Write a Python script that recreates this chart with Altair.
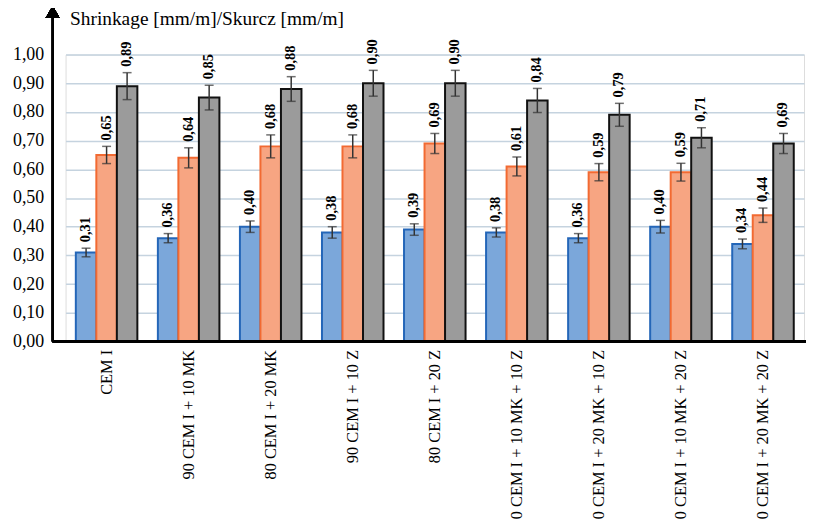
import altair as alt
import pandas as pd

groups = ["CEM I", "90 CEM I + 10 MK", "80 CEM I + 20 MK", "90 CEM I + 10 Z",
          "80 CEM I + 20 Z", "80 CEM I + 10 MK + 10 Z", "70 CEM I + 20 MK + 10 Z",
          "70 CEM I + 10 MK + 20 Z", "60 CEM I + 20 MK + 20 Z"]
series_names = ["S1", "S2", "S3"]
s1 = [0.31, 0.36, 0.40, 0.38, 0.39, 0.38, 0.36, 0.40, 0.34]
s2 = [0.65, 0.64, 0.68, 0.68, 0.69, 0.61, 0.59, 0.59, 0.44]
s3 = [0.89, 0.85, 0.88, 0.90, 0.90, 0.84, 0.79, 0.71, 0.69]
e1 = [0.015, 0.016, 0.020, 0.020, 0.020, 0.016, 0.016, 0.022, 0.017]
e2 = [0.030, 0.035, 0.040, 0.040, 0.035, 0.033, 0.030, 0.031, 0.025]
e3 = [0.047, 0.043, 0.043, 0.045, 0.045, 0.042, 0.040, 0.035, 0.035]
y_ticks = [0.0, 0.1, 0.2, 0.3, 0.4, 0.5, 0.6, 0.7, 0.8, 0.9, 1.0]

fills = ["#7ba7da", "#f7a582", "#9b9b9b"]
strokes = ["#2466b8", "#f26a32", "#111111"]

rows = []
for name, vals, errs in zip(series_names, [s1, s2, s3], [e1, e2, e3]):
    for g, v, e in zip(groups, vals, errs):
        rows.append({"group": g, "series": name, "value": v,
                     "lo": v - e, "hi": v + e,
                     "label": f"{v:.2f}".replace(".", ",")})
df = pd.DataFrame(rows)

W, H = 744, 289
SERIF = "Liberation Serif"

x_enc = alt.X("group:N", sort=groups,
              scale=alt.Scale(paddingInner=0.25, paddingOuter=0.125),
              axis=alt.Axis(title=None, labelAngle=-90, labelFontSize=16.5,
                            labelFont=SERIF, labelColor="black",
                            ticks=False, domain=False, labelPadding=8, grid=False))
xo_enc = alt.XOffset("series:N", sort=series_names, scale=alt.Scale(paddingInner=0.0))

base = alt.Chart(df).encode(x=x_enc, xOffset=xo_enc)

y_axis = alt.Axis(values=y_ticks,
                  labelExpr="replace(format(datum.value, '.2f'), '.', ',')",
                  labelOverlap=False,
                  offset=13, domain=False, ticks=False,
                  labelFont=SERIF, labelFontSize=18, labelColor="black",
                  labelPadding=9, gridColor="#c5d3df", gridWidth=1.5,
                  title="Shrinkage [mm/m]/Skurcz [mm/m]",
                  titleFont=SERIF, titleColor="black", titleFontWeight="normal",
                  titleAngle=0, titleAlign="left", titleBaseline="alphabetic",
                  titleFontSize=19.5, titleX=17, titleY=-30)
y_scale = alt.Scale(domain=[0, 1])


def Y(field):
    return alt.Y(field, scale=y_scale, axis=y_axis, title="Shrinkage [mm/m]/Skurcz [mm/m]")


bars = base.mark_bar(strokeWidth=2).encode(
    y=Y("value:Q"),
    fill=alt.Fill("series:N", sort=series_names,
                  scale=alt.Scale(domain=series_names, range=fills), legend=None),
    stroke=alt.Stroke("series:N", sort=series_names,
                      scale=alt.Scale(domain=series_names, range=strokes), legend=None),
)

err = base.mark_rule(color="#333333", strokeWidth=1.5).encode(y=Y("lo:Q"), y2="hi:Q")
cap_lo = base.mark_tick(color="#333333", thickness=1.5, size=9).encode(y=Y("lo:Q"))
cap_hi = base.mark_tick(color="#333333", thickness=1.5, size=9).encode(y=Y("hi:Q"))

labels = base.mark_text(angle=270, align="left", baseline="middle", dx=6,
                        font=SERIF, fontWeight="bold", fontSize=14.5,
                        color="black").encode(y=Y("hi:Q"), text="label:N")

x_line = alt.Chart(df).mark_rule(color="black", strokeWidth=1.5).encode(
    x=alt.value(-13), x2=alt.value(W + 2), y=alt.value(H))
y_line = alt.Chart(df).mark_rule(color="black", strokeWidth=1.5).encode(
    x=alt.value(-13), y=alt.value(-38), y2=alt.value(H))
arrow = alt.Chart(df).mark_point(shape="triangle-up", filled=True, size=196,
                                 color="black", opacity=1).encode(
    x=alt.value(-13), y=alt.value(-43))

chart = alt.layer(bars, err, cap_lo, cap_hi, labels, x_line, y_line, arrow).properties(
    width=W, height=H,
    autosize=alt.AutoSizeParams(type="none"),
    padding={"left": 58, "top": 45, "right": 2, "bottom": 180},
).configure_view(strokeWidth=0).configure(background="white")

chart.save("out.html", embed_options={"renderer": "svg", "actions": False})
